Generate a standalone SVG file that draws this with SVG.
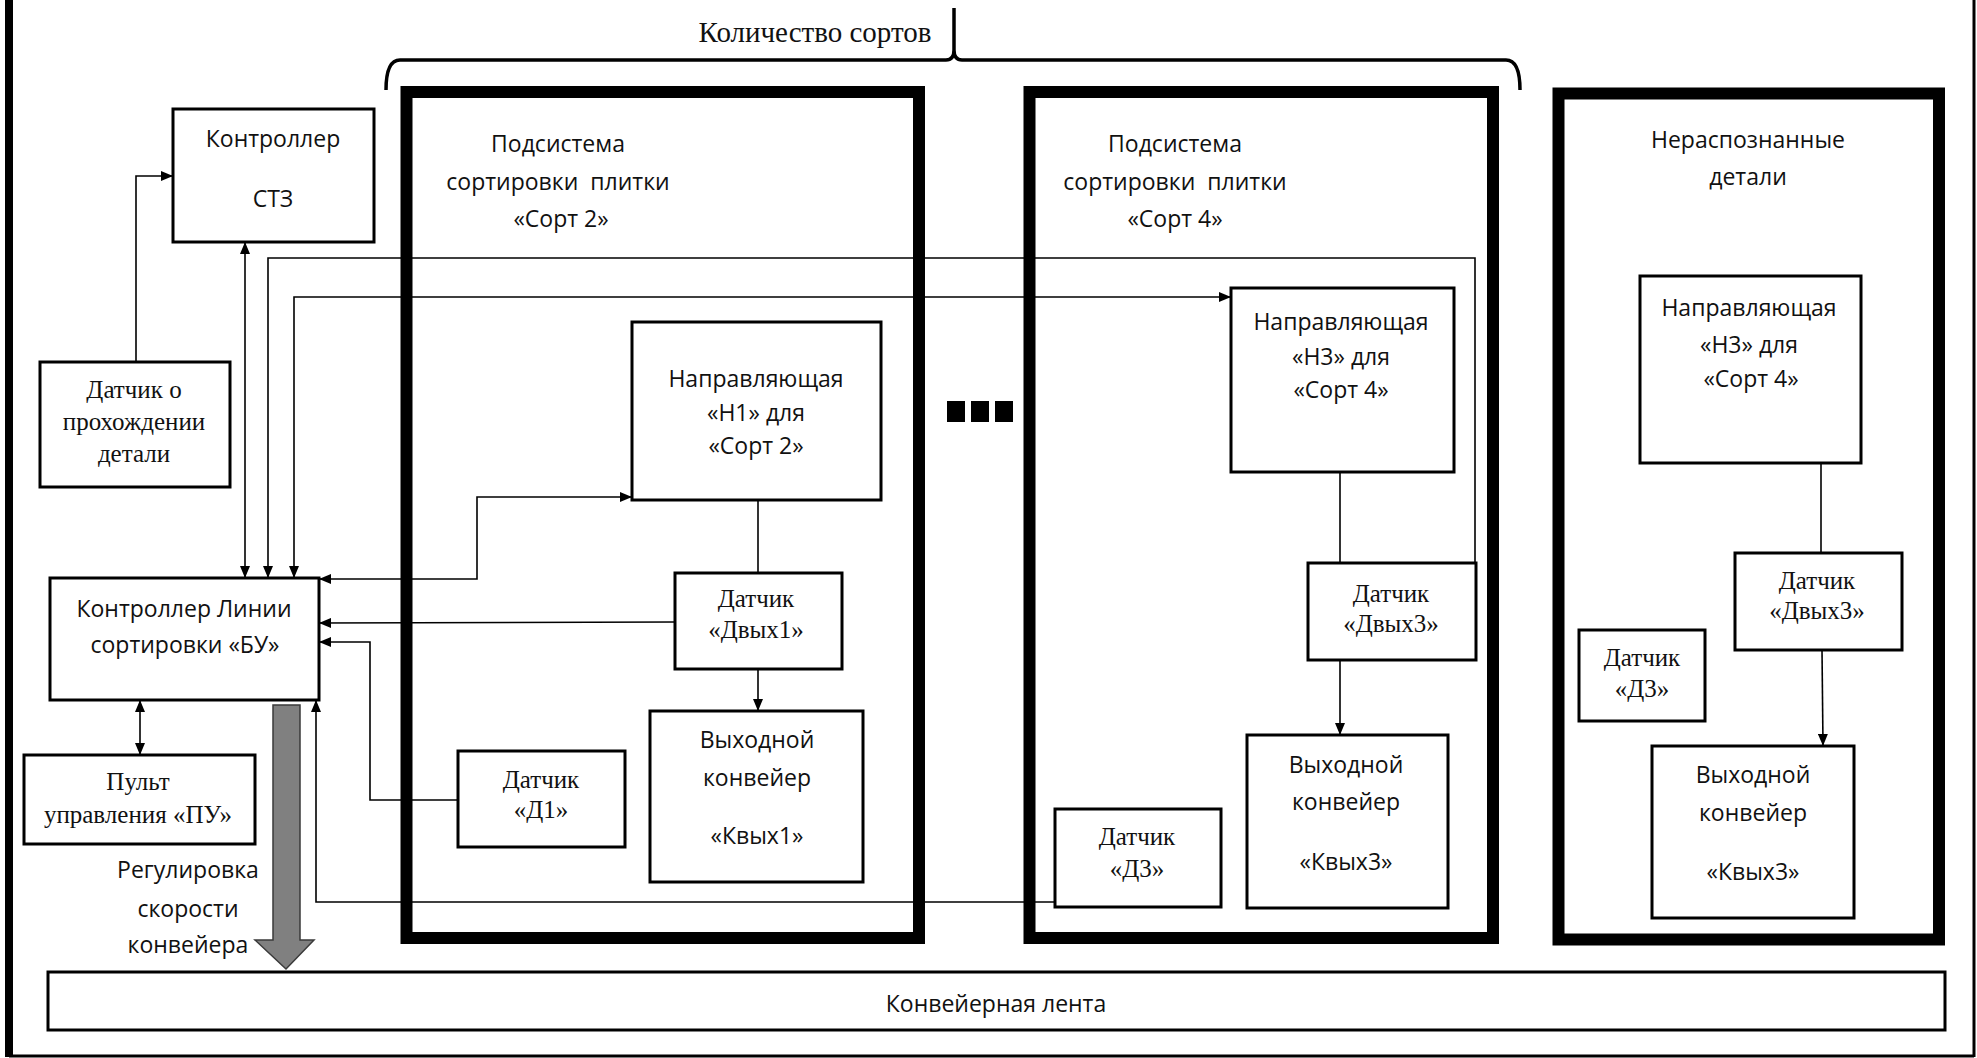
<svg xmlns="http://www.w3.org/2000/svg" width="1977" height="1058" viewBox="0 0 1977 1058">
<style>
.box{fill:#fff;stroke:#000;stroke-width:3}
.frame{fill:none;stroke:#000;stroke-width:12}
.ln{fill:none;stroke:#000;stroke-width:1.6}
.s{font-family:"Open Sans","Liberation Sans",sans-serif;font-size:23px;fill:#111;text-anchor:middle}
.r{font-family:"Liberation Serif","DejaVu Serif",serif;font-size:25px;fill:#111;text-anchor:middle}
</style>
<defs>
<marker id="ah" viewBox="0 0 12 10" refX="12" refY="5" markerWidth="12" markerHeight="10" markerUnits="userSpaceOnUse" orient="auto-start-reverse">
<path d="M0,0 L12,5 L0,10 Z" fill="#000"/>
</marker>
</defs>
<rect width="1977" height="1058" fill="#fff"/>
<g id="outer-frame">
<line x1="9" y1="0" x2="9" y2="1057" stroke="#000" stroke-width="8"/>
<line x1="9" y1="1056" x2="1974" y2="1056" stroke="#000" stroke-width="3"/>
<line x1="1974" y1="0" x2="1974" y2="1057" stroke="#000" stroke-width="3"/>
</g>
<g id="brace">
<path d="M386,90 Q386,60 400,60 H946 Q954,60 954,50 V8 M954,50 Q954,60 962,60 H1506 Q1520,60 1520,90" fill="none" stroke="#000" stroke-width="3.5"/>
<text class="r" x="815" y="42" style="font-size:29px">Количество сортов</text>
</g>
<g id="sub1">
<rect class="frame" x="406.5" y="92" width="512.5" height="846"/>
<text class="s" x="558" y="152">Подсистема</text>
<text class="s" x="558" y="190" xml:space="preserve">сортировки  плитки</text>
<text class="s" x="561" y="227">«Сорт 2»</text>
</g>
<g id="sub2">
<rect class="frame" x="1029.5" y="92" width="463.5" height="846"/>
<text class="s" x="1175" y="152">Подсистема</text>
<text class="s" x="1175" y="190" xml:space="preserve">сортировки  плитки</text>
<text class="s" x="1175" y="227">«Сорт 4»</text>
</g>
<g id="sub3">
<rect class="frame" x="1558.5" y="93.5" width="380.5" height="846"/>
<text class="s" x="1748" y="148">Нераспознанные</text>
<text class="s" x="1748" y="185">детали</text>
</g>
<g id="dots">
<rect x="947" y="401" width="18" height="21" fill="#000"/>
<rect x="971" y="401" width="18" height="21" fill="#000"/>
<rect x="995" y="401" width="18" height="21" fill="#000"/>
</g>
<g id="connectors">
<path class="ln" d="M136,362 V176 H173" marker-end="url(#ah)"/>
<path class="ln" d="M245,578 V242" marker-start="url(#ah)" marker-end="url(#ah)"/>
<path class="ln" d="M1475,563 V258 H268 V578" marker-end="url(#ah)"/>
<path class="ln" d="M294,578 V297 H1231" marker-start="url(#ah)" marker-end="url(#ah)"/>
<path class="ln" d="M319,579 H477 V497 H632" marker-start="url(#ah)" marker-end="url(#ah)"/>
<path class="ln" d="M675,622 L319,623" marker-end="url(#ah)"/>
<path class="ln" d="M458,800 H370 V642 H319" marker-end="url(#ah)"/>
<path class="ln" d="M1055,902 H316 V700" marker-end="url(#ah)"/>
<path class="ln" d="M140,755 V700" marker-start="url(#ah)" marker-end="url(#ah)"/>
<path class="ln" d="M758,500 V573"/>
<path class="ln" d="M758,669 V711" marker-end="url(#ah)"/>
<path class="ln" d="M1340,472 V563"/>
<path class="ln" d="M1340,660 V735" marker-end="url(#ah)"/>
<path class="ln" d="M1821,463 V553"/>
<path class="ln" d="M1822,650 L1823,746" marker-end="url(#ah)"/>
<polygon points="273,705 300,705 300,940 314,940 286,969 255,940 273,940" fill="#808080" stroke="#3a3a3a" stroke-width="1.5"/>
</g>
<g id="stz">
<rect class="box" x="173" y="109" width="201" height="133"/>
<text class="s" x="273" y="147">Контроллер</text>
<text class="s" x="273" y="207">СТЗ</text>
</g>
<g id="sensor-pass">
<rect class="box" x="40" y="362" width="190" height="125"/>
<text class="r" x="134" y="398">Датчик о</text>
<text class="r" x="134" y="430">прохождении</text>
<text class="r" x="134" y="462">детали</text>
</g>
<g id="bu">
<rect class="box" x="50" y="578" width="269" height="122"/>
<text class="s" x="184" y="617">Контроллер Линии</text>
<text class="s" x="185" y="653">сортировки «БУ»</text>
</g>
<g id="pu">
<rect class="box" x="24" y="755" width="231" height="89"/>
<text class="r" x="138" y="790">Пульт</text>
<text class="r" x="138" y="823">управления «ПУ»</text>
</g>
<g id="speed-label">
<text class="s" x="188" y="878">Регулировка</text>
<text class="s" x="188" y="917">скорости</text>
<text class="s" x="188" y="953">конвейера</text>
</g>
<g id="h1">
<rect class="box" x="632" y="322" width="249" height="178"/>
<text class="s" x="756" y="387">Направляющая</text>
<text class="s" x="756" y="421">«Н1» для</text>
<text class="s" x="756" y="454">«Сорт 2»</text>
</g>
<g id="dvyh1">
<rect class="box" x="675" y="573" width="167" height="96"/>
<text class="r" x="756" y="607">Датчик</text>
<text class="r" x="756" y="638">«Двых1»</text>
</g>
<g id="d1">
<rect class="box" x="458" y="751" width="167" height="96"/>
<text class="r" x="541" y="788">Датчик</text>
<text class="r" x="541" y="818">«Д1»</text>
</g>
<g id="kvyh1">
<rect class="box" x="650" y="711" width="213" height="171"/>
<text class="s" x="757" y="748">Выходной</text>
<text class="s" x="757" y="786">конвейер</text>
<text class="s" x="757" y="844">«Квых1»</text>
</g>
<g id="h3a">
<rect class="box" x="1231" y="288" width="223" height="184"/>
<text class="s" x="1341" y="330">Направляющая</text>
<text class="s" x="1341" y="365">«Н3» для</text>
<text class="s" x="1341" y="398">«Сорт 4»</text>
</g>
<g id="dvyh3a">
<rect class="box" x="1308" y="563" width="168" height="97"/>
<text class="r" x="1391" y="602">Датчик</text>
<text class="r" x="1391" y="632">«Двых3»</text>
</g>
<g id="d3a">
<rect class="box" x="1055" y="809" width="166" height="98"/>
<text class="r" x="1137" y="845">Датчик</text>
<text class="r" x="1137" y="877">«Д3»</text>
</g>
<g id="kvyh3a">
<rect class="box" x="1247" y="735" width="201" height="173"/>
<text class="s" x="1346" y="773">Выходной</text>
<text class="s" x="1346" y="810">конвейер</text>
<text class="s" x="1346" y="870">«Квых3»</text>
</g>
<g id="h3b">
<rect class="box" x="1640" y="276" width="221" height="187"/>
<text class="s" x="1749" y="316">Направляющая</text>
<text class="s" x="1749" y="353">«Н3» для</text>
<text class="s" x="1751" y="387">«Сорт 4»</text>
</g>
<g id="dvyh3b">
<rect class="box" x="1735" y="553" width="167" height="97"/>
<text class="r" x="1817" y="589">Датчик</text>
<text class="r" x="1817" y="619">«Двых3»</text>
</g>
<g id="d3b">
<rect class="box" x="1579" y="630" width="126" height="91"/>
<text class="r" x="1642" y="666">Датчик</text>
<text class="r" x="1642" y="697">«Д3»</text>
</g>
<g id="kvyh3b">
<rect class="box" x="1652" y="746" width="202" height="172"/>
<text class="s" x="1753" y="783">Выходной</text>
<text class="s" x="1753" y="821">конвейер</text>
<text class="s" x="1753" y="880">«Квых3»</text>
</g>
<g id="belt">
<rect class="box" x="48" y="972" width="1897" height="58"/>
<text class="s" x="996" y="1012">Конвейерная лента</text>
</g>
</svg>
